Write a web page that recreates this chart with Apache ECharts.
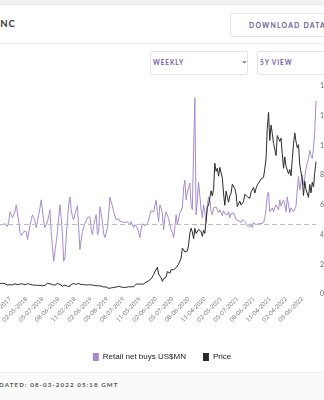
<!DOCTYPE html>
<html>
<head>
<meta charset="utf-8">
<script src="https://cdn.jsdelivr.net/npm/echarts@6/dist/echarts.min.js"></script>
<style>
  html, body { margin:0; padding:0; width:324px; height:400px; overflow:hidden; background:#fff; font-family: Lato, "Open Sans", sans-serif; }
  .abs { position:absolute; }
  #topbar { left:0; top:0; width:324px; height:4px; background:#f2f2f2; border-bottom:1px solid #ececec; }
  #title { top:18px; font-weight:700; font-size:9.5px; letter-spacing:1px; color:#333; white-space:nowrap; }
  #divider1 { left:0; top:43px; width:324px; height:1px; background:#ececec; }
  .btn { border:1px solid #e4e4e4; border-radius:2px; box-sizing:border-box; background:#fff; }
  .btnText { font-weight:700; letter-spacing:1.3px; white-space:nowrap; }
  #footer { left:0; top:372px; width:324px; height:28px; background:#fafafa; border-top:1px solid #ececec; }
  #updated { top:381px; font-size:6.2px; font-weight:700; letter-spacing:1.1px; color:#555; white-space:nowrap; }
  #chart { left:0; top:0; width:324px; height:400px; }
</style>
</head>
<body>
<div id="topbar" class="abs"></div>
<div id="title" class="abs"><span id="titleHidden">TESLA I</span>NC</div>
<div class="abs btn" style="left:230px; top:13px; width:110px; height:24px;"></div>
<div class="abs btnText" style="left:249px; top:21px; font-size:6.8px; letter-spacing:1.25px; color:#6c5c96;">DOWNLOAD DATA</div>
<div id="divider1" class="abs"></div>
<div class="abs btn" style="left:150px; top:51px; width:98px; height:24px;"></div>
<div class="abs btnText" style="left:153px; top:59px; font-size:6.5px; letter-spacing:0.9px; color:#7a5aa8;">WEEKLY</div>
<div class="abs" style="left:241px; top:55px; font-size:8px; color:#7a5aa8; font-weight:700;">&#8964;</div>
<div class="abs btn" style="left:257px; top:51px; width:90px; height:24px;"></div>
<div class="abs btnText" style="left:260px; top:59px; font-size:6.5px; letter-spacing:0.9px; color:#7a5aa8;">5Y VIEW</div>
<div id="footer" class="abs"></div>
<div id="updated" class="abs"><span id="updHidden">LAST UP</span>DATED: 08-03-2022 05:18 GMT</div>
<div id="chart" class="abs"></div>
<script>
// x-axis tick labels (every 13th weekly point, starting at point 8)
const tickLabels = ['11-02-2017','02-05-2018','05-07-2018','08-06-2018','11-02-2018','02-06-2019','05-08-2019','08-07-2019','11-05-2019','02-06-2020','05-07-2020','08-06-2020','11-04-2020','02-05-2021','05-07-2021','08-06-2021','11-04-2021','02-04-2022','05-06-2022'];
const firstTickIndex = 8;
const tickEvery = 13;

// Retail net buys US$MN (weekly)
const retailNetBuys = [
  0,-2,0,-2,2,0,-4,6,26,22,
  14,12,26,40,38,6,-16,-22,-24,-14,
  -10,-14,-30,-26,-2,10,20,14,6,-6,
  -2,20,34,50,54,6,-6,-4,6,18,
  30,-14,-46,-74,-54,-36,-14,14,40,14,
  -20,-74,-66,-26,10,40,56,30,16,10,
  22,30,38,-6,-50,-30,-14,-6,2,6,
  14,14,16,-10,-20,-2,10,20,-20,-14,
  36,22,6,-18,-26,-30,-6,22,56,46,
  38,26,18,10,14,12,6,4,6,6,
  4,2,6,2,0,6,4,-6,0,2,
  -6,-16,-26,-10,2,6,-2,-6,2,10,
  20,28,30,26,38,50,26,6,40,34,
  22,-10,14,26,20,12,0,-10,-16,-26,
  -6,20,0,2,24,22,34,74,90,50,
  66,74,84,40,30,150,256,20,50,86,
  84,30,14,40,26,4,40,56,50,26,
  20,34,30,36,36,24,30,26,18,28,
  22,18,20,26,14,22,18,24,18,10,
  14,8,10,4,10,14,6,4,-2,0,
  -4,2,-6,4,2,0,4,2,6,2,
  6,4,14,30,60,66,26,30,34,26,
  34,40,36,30,50,38,34,50,40,26,
  56,40,24,34,36,26,30,38,70,98,
  70,74,100,80,94,114,110,134,150,140,
  134,154,190,250
];

// Price (weekly)
const price = [
  70.2,68.2,
  71.2,71,69,64,
  60.4,60.4,63,63.2,
  61.2,63,68.6,65,62.2,
  63.2,67.2,70,68.4,
  68.6,62,67,70,
  67,65.4,64.2,60.2,53.2,
  59.8,60,58,58.8,
  58.8,60.2,55.2,55.6,
  58.2,63.4,71.6,66.6,68.4,
  61.6,63.6,62.6,59.4,
  69.6,71.2,61,64.4,60.2,
  52.6,59,59.8,52.8,
  52.2,51.6,52,66,
  69.2,70,70.8,65,70,
  71.4,73,63.8,66.6,
  63.4,69.4,60.4,59.4,
  62.4,61,61.4,58.8,
  58.8,56.8,55,52.8,55.8,
  54.8,53.4,54.6,47,
  51,47.8,42.2,38,37,
  41,42.8,44.2,44.8,
  46.6,49,51.6,45.6,
  46.8,47,43.8,42.2,45,
  45.4,49,48,48.4,
  46.2,49.4,51.4,65.6,
  62.6,67.4,70.4,66.6,65.8,
  67,71.6,81,86,
  88.6,95.6,102,112.8,130,
  149.6,160,180.2,133.4,
  140.8,109.2,85.4,102.8,
  96,114.6,150.6,145,
  140.4,163.8,159.8,163.2,167,
  177,187,200,191.8,
  241.6,308.8,300,283.4,286,
  290.4,330,409.8,442.6,
  418,372,442,407,
  415,434,439,420,388,
  429,408,490,585,
  599,609,695,661,705,
  880,826,846,793,
  852,816,781,675,
  597,693,654,618,
  661,677,739,729,709,
  672,589,580,625,
  599,609,623,671,
  678,656,644,643,687,
  700,717,680,711,
  733,736,760,774,
  775,785,843,910,1114,
  1222,1033,1137,1081,
  1014,1017,932,1067,1056,
  1027,1049,943,846,
  923,860,856,809,
  838,795,905,1010,
  1084,1025,985,1005,870,
  865,770,663,759,
  703,696,650,737,
  681,752,720,816,891
];

// cropped texts: shift hidden prefixes off the left edge
(function(){
  const t = document.getElementById('title');
  t.style.left = (-document.getElementById('titleHidden').offsetWidth + 0.5) + 'px';
  const u = document.getElementById('updated');
  u.style.left = (-document.getElementById('updHidden').offsetWidth - 1) + 'px';
})();

const categories = retailNetBuys.map((_, i) => {
  const k = i - firstTickIndex;
  return (k >= 0 && k % tickEvery === 0 && tickLabels[k / tickEvery]) ? tickLabels[k / tickEvery] : 'w' + i;
});
const isTick = (i) => { const k = i - firstTickIndex; return k >= 0 && k % tickEvery === 0; };

const chart = echarts.init(document.getElementById('chart'), null, { renderer: 'canvas' });
chart.setOption({
  animation: false,
  backgroundColor: 'transparent',
  grid: { left: 0, right: 8, top: 86, bottom: 106, containLabel: false, outerBoundsMode: 'none' },
  legend: {
    data: ['Retail net buys US$MN', 'Price'],
    left: 'center', top: 348,
    icon: 'rect', itemWidth: 6, itemHeight: 8, itemGap: 17,
    textStyle: { fontSize: 8, color: '#222', fontFamily: 'Liberation Sans, Arial, sans-serif', padding: [0,0,0,-1] }
  },
  xAxis: {
    type: 'category',
    data: categories,
    boundaryGap: false,
    axisLine: { show: false },
    axisTick: { show: false },
    splitLine: { show: false },
    axisLabel: {
      interval: (i) => isTick(i),
      rotate: 45,
      fontSize: 6,
      color: '#777',
      margin: 4,
      hideOverlap: false,
      fontFamily: 'Lato, sans-serif'
    }
  },
  yAxis: [
    {
      type: 'value', position: 'left', min: -140, max: 280, interval: 70,
      axisLine: { show: false }, axisTick: { show: false },
      axisLabel: { show: false }, splitLine: { show: false }
    },
    {
      type: 'value', position: 'right', min: 0, max: 1400, interval: 200,
      axisLine: { show: false }, axisTick: { show: false },
      splitLine: { show: false },
      axisLabel: { fontSize: 7, color: '#666', margin: 4, fontFamily: 'Lato, sans-serif', formatter: (v) => String(v) }
    }
  ],
  series: [
    {
      name: 'Retail net buys US$MN', type: 'line', yAxisIndex: 0,
      data: retailNetBuys, showSymbol: false, symbol: 'none',
      itemStyle: { color: '#a68bcc' },
      lineStyle: { color: '#a68bcc', width: 1 },
      markLine: {
        silent: true, symbol: 'none', label: { show: false },
        lineStyle: { color: '#bdbdbd', type: [5, 3], width: 1 },
        data: [{ yAxis: 0 }]
      }
    },
    {
      name: 'Price', type: 'line', yAxisIndex: 1,
      data: price, showSymbol: false, symbol: 'none',
      itemStyle: { color: '#2a2a2a' },
      lineStyle: { color: '#2a2a2a', width: 1 }
    }
  ]
});
</script>
</body>
</html>
